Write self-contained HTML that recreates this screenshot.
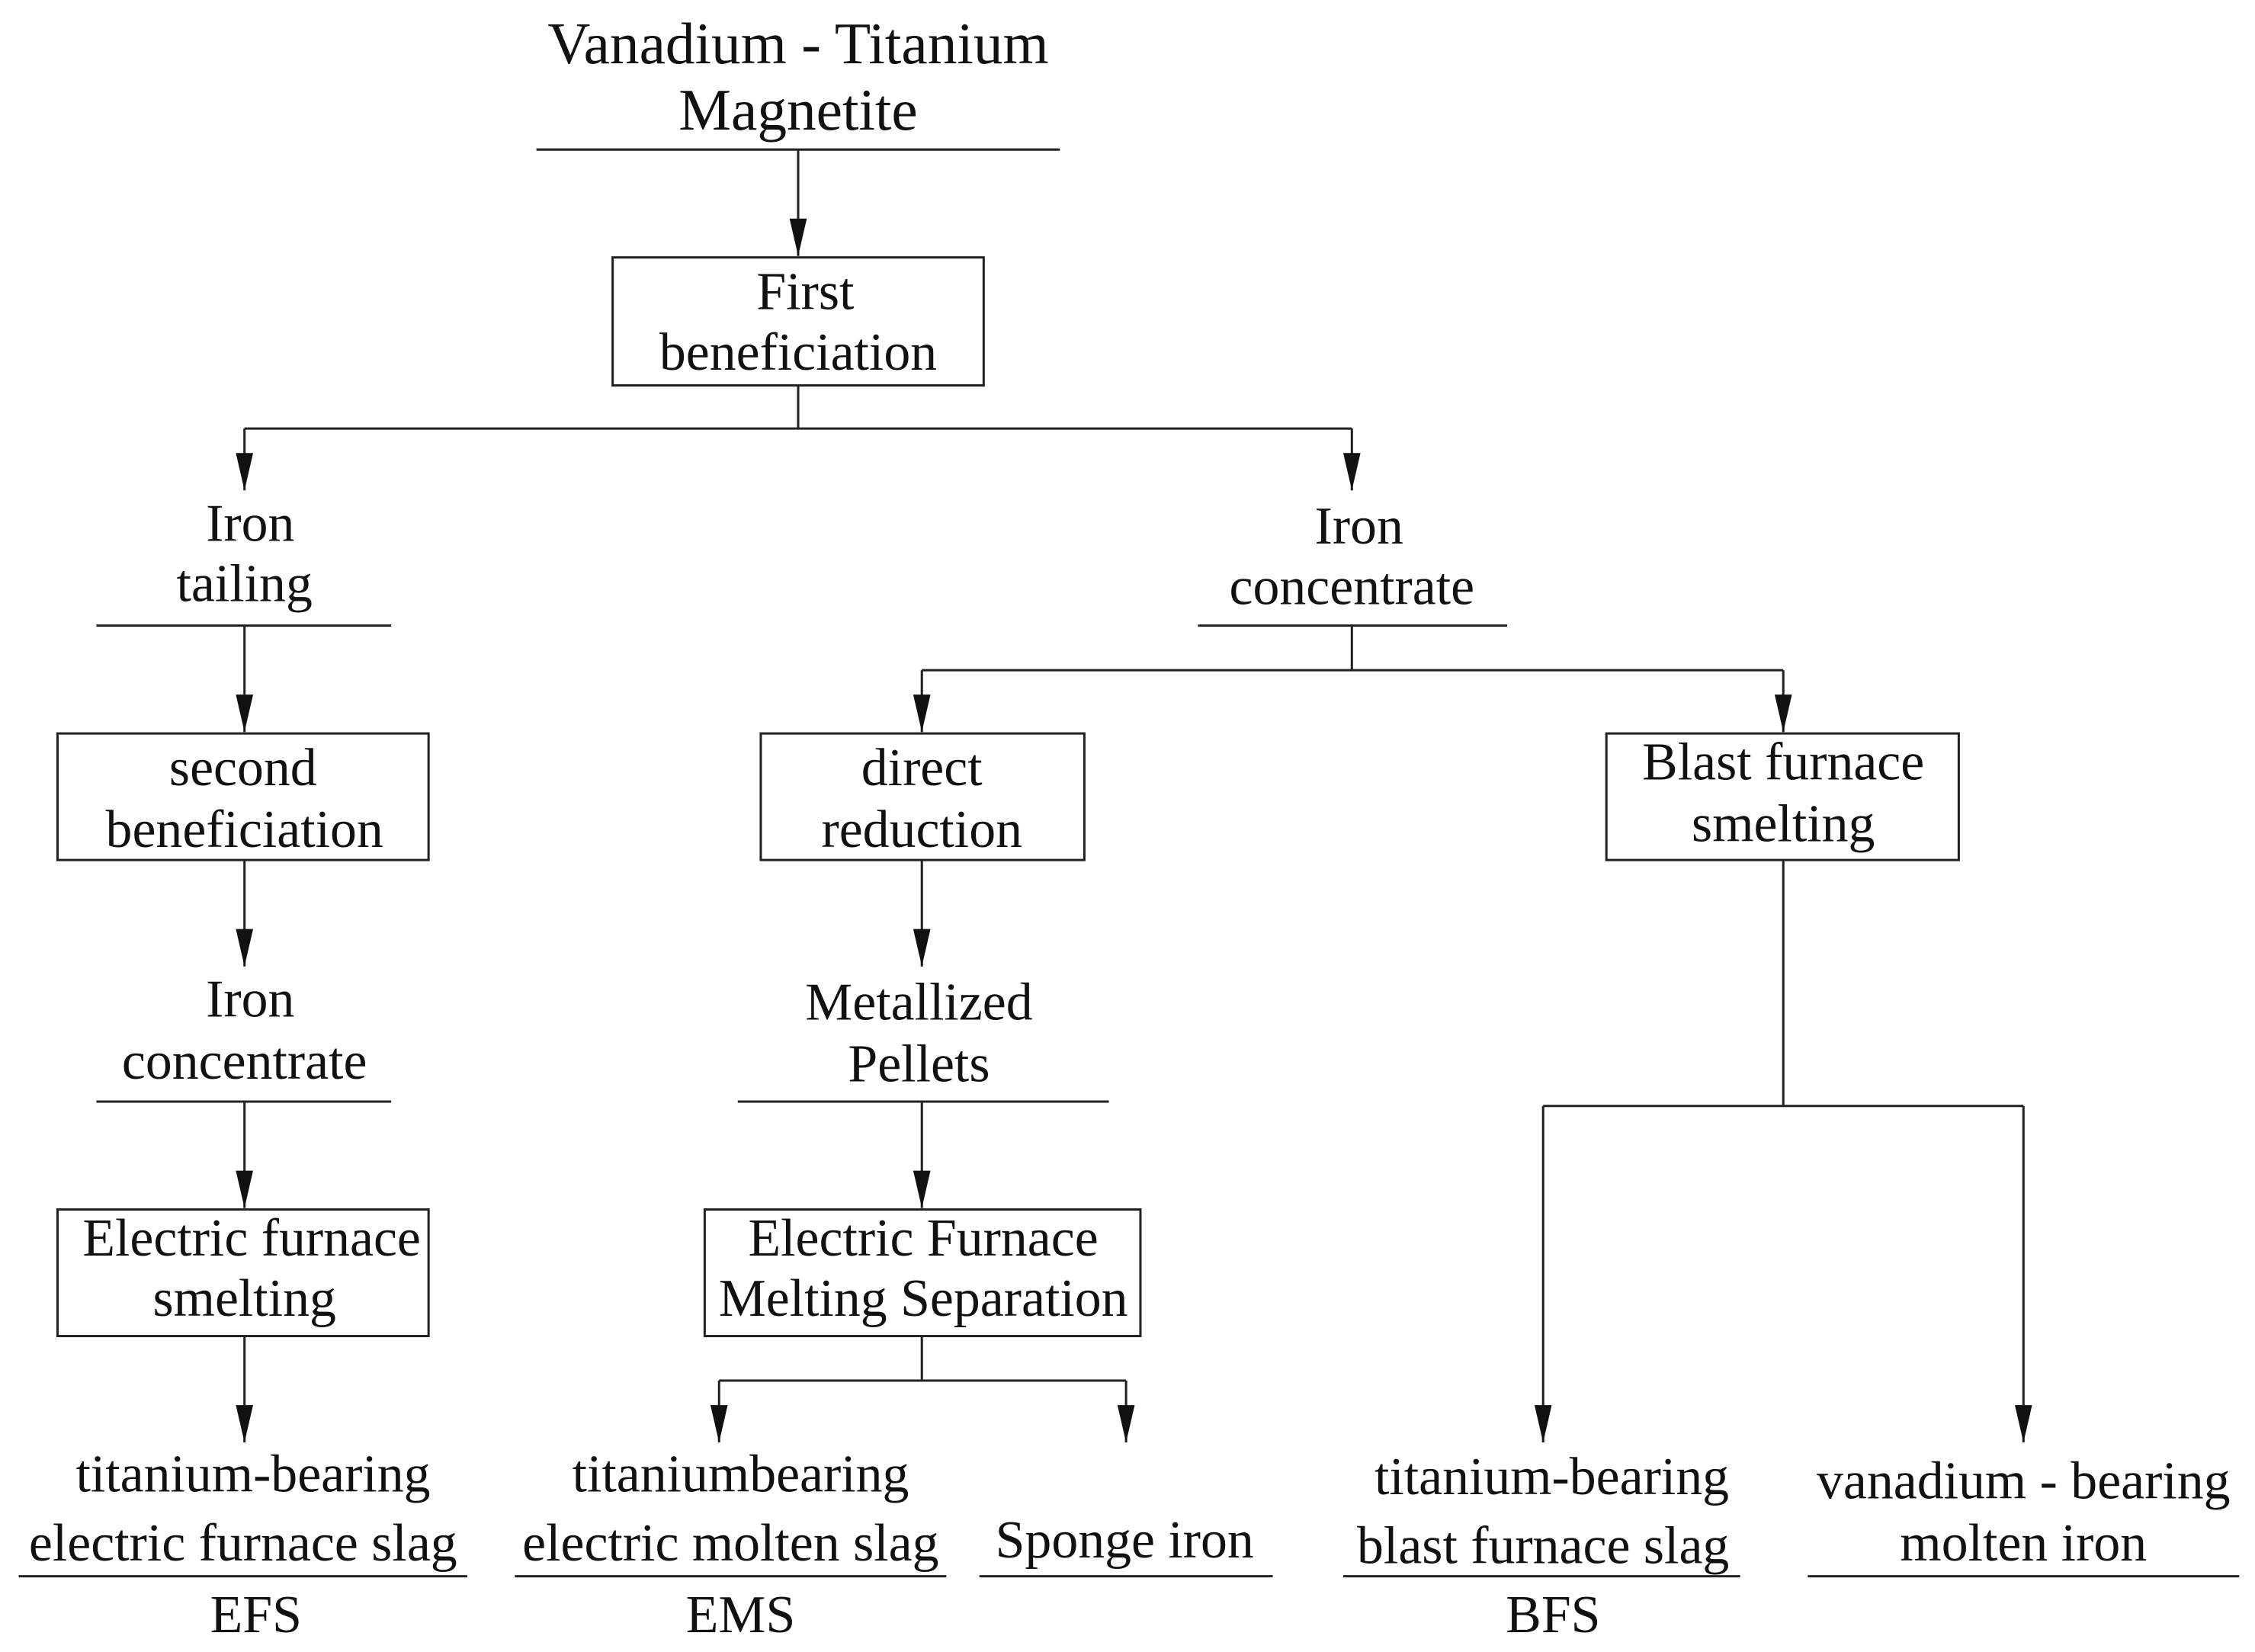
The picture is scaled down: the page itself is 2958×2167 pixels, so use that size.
<!DOCTYPE html>
<html><head><meta charset="utf-8"><style>
html,body{margin:0;padding:0;background:#fff}
svg{display:block}
text{font-family:"Liberation Serif",serif;font-size:37px;fill:#111;text-anchor:middle}
</style></head><body>
<svg width="2958" height="2167" viewBox="0 0 1568 1148.7" preserveAspectRatio="none" xmlns="http://www.w3.org/2000/svg">
<defs><marker id="a" markerWidth="26" markerHeight="12" refX="26" refY="6" orient="auto" markerUnits="userSpaceOnUse" viewBox="0 0 26 12"><path d="M0,0 L26,6 L0,12 Z" fill="#111"/></marker></defs>
<g stroke="#222" stroke-width="1.6" fill="none">
<line x1="373" y1="104" x2="737" y2="104"/>
<line x1="67" y1="435" x2="272" y2="435"/>
<line x1="833" y1="435" x2="1048" y2="435"/>
<line x1="67" y1="766" x2="272" y2="766"/>
<line x1="513" y1="766" x2="771" y2="766"/>
<line x1="13" y1="1096" x2="325" y2="1096"/>
<line x1="358" y1="1096" x2="658" y2="1096"/>
<line x1="681" y1="1096" x2="885" y2="1096"/>
<line x1="934" y1="1096" x2="1210" y2="1096"/>
<line x1="1257" y1="1096" x2="1557" y2="1096"/>
<rect x="426" y="179" width="258" height="89"/>
<rect x="40" y="510" width="258" height="88"/>
<rect x="529" y="510" width="225" height="88"/>
<rect x="1117" y="510" width="245" height="88"/>
<rect x="40" y="841" width="258" height="88"/>
<rect x="490" y="841" width="303" height="88"/>
<line x1="555" y1="268" x2="555" y2="298"/>
<line x1="170" y1="298" x2="940" y2="298"/>
<line x1="940" y1="435" x2="940" y2="466"/>
<line x1="641" y1="466" x2="1240" y2="466"/>
<line x1="641" y1="929" x2="641" y2="960"/>
<line x1="500" y1="960" x2="783" y2="960"/>
<line x1="1240" y1="598" x2="1240" y2="769"/>
<line x1="1073" y1="769" x2="1407" y2="769"/>
</g>
<g stroke="#222" stroke-width="1.6" marker-end="url(#a)">
<line x1="555" y1="104" x2="555" y2="178"/>
<line x1="170" y1="298" x2="170" y2="341"/>
<line x1="940" y1="298" x2="940" y2="341"/>
<line x1="170" y1="435" x2="170" y2="509"/>
<line x1="641" y1="466" x2="641" y2="509"/>
<line x1="1240" y1="466" x2="1240" y2="509"/>
<line x1="170" y1="598" x2="170" y2="672"/>
<line x1="641" y1="598" x2="641" y2="672"/>
<line x1="170" y1="766" x2="170" y2="840"/>
<line x1="641" y1="766" x2="641" y2="840"/>
<line x1="170" y1="929" x2="170" y2="1003"/>
<line x1="500" y1="960" x2="500" y2="1003"/>
<line x1="783" y1="960" x2="783" y2="1003"/>
<line x1="1073" y1="769" x2="1073" y2="1003"/>
<line x1="1407" y1="769" x2="1407" y2="1003"/>
</g>
<text x="555" y="44" style="font-size:41px">Vanadium - Titanium</text>
<text x="555" y="90" style="font-size:41px">Magnetite</text>
<text x="560" y="215">First</text>
<text x="555" y="257">beneficiation</text>
<text x="174" y="376">Iron</text>
<text x="170" y="418">tailing</text>
<text x="945" y="378">Iron</text>
<text x="940" y="420">concentrate</text>
<text x="169" y="546">second</text>
<text x="170" y="589">beneficiation</text>
<text x="641" y="546">direct</text>
<text x="641" y="589">reduction</text>
<text x="1240" y="542">Blast furnace</text>
<text x="1240" y="585">smelting</text>
<text x="174" y="707">Iron</text>
<text x="170" y="750">concentrate</text>
<text x="639" y="709">Metallized</text>
<text x="639" y="752">Pellets</text>
<text x="175" y="873">Electric furnace</text>
<text x="170" y="915">smelting</text>
<text x="642" y="873">Electric Furnace</text>
<text x="642" y="915">Melting Separation</text>
<text x="176" y="1037">titanium-bearing</text>
<text x="169" y="1085">electric furnace slag</text>
<text x="178" y="1135">EFS</text>
<text x="515" y="1037">titaniumbearing</text>
<text x="508" y="1085">electric molten slag</text>
<text x="515" y="1135">EMS</text>
<text x="782" y="1083">Sponge iron</text>
<text x="1079" y="1039">titanium-bearing</text>
<text x="1073" y="1087">blast furnace slag</text>
<text x="1080" y="1135">BFS</text>
<text x="1407" y="1042">vanadium - bearing</text>
<text x="1407" y="1085">molten iron</text>
</svg>
</body></html>
